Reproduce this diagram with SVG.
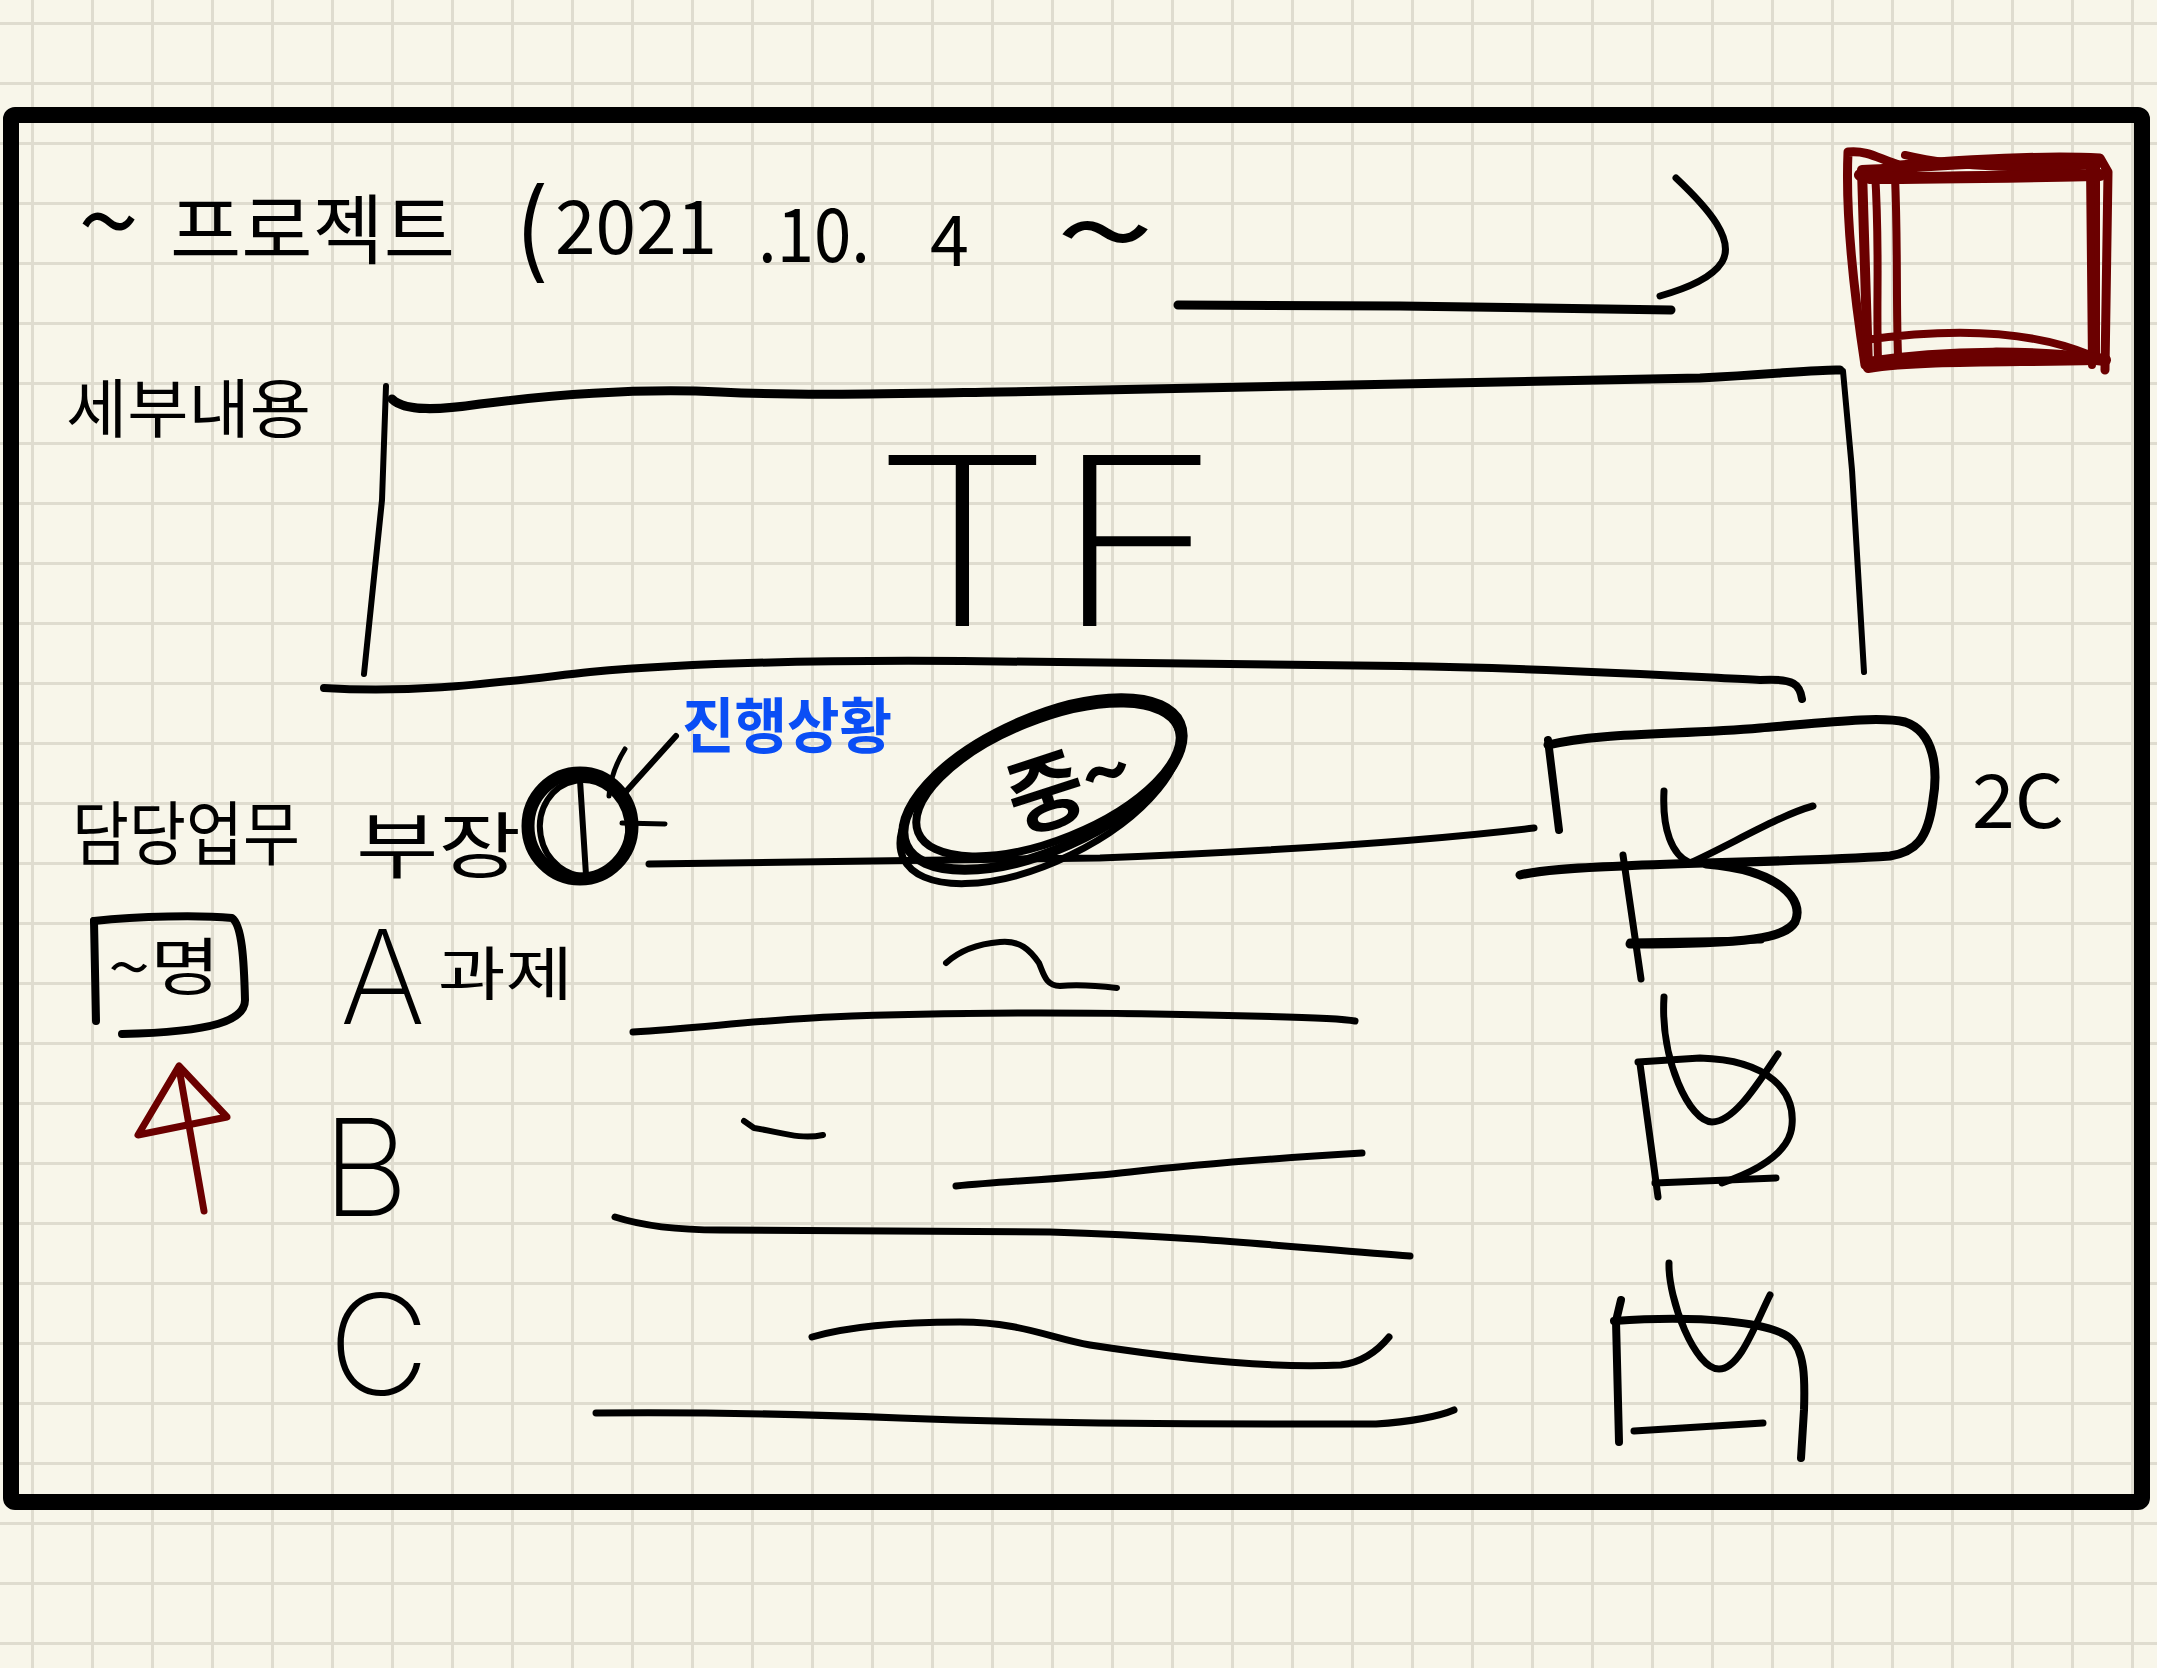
<svg xmlns="http://www.w3.org/2000/svg" width="2157" height="1668" viewBox="0 0 2157 1668">
<defs>
<pattern id="grid" x="31" y="22" width="60" height="60" patternUnits="userSpaceOnUse">
<path d="M0 1.5H60M1.5 0V60" stroke="#dfdccf" stroke-width="3" fill="none"/>
</pattern>
<style>
.ink{fill:none;stroke:#000;stroke-linecap:round;stroke-linejoin:round}
.red{fill:none;stroke:#6b0000;stroke-linecap:round;stroke-linejoin:round}
.hw{font-family:"Noto Sans CJK KR","Noto Sans",sans-serif;fill:#000}
.lat{font-family:Inter,"DejaVu Sans","Liberation Sans",sans-serif;font-weight:200;fill:#000}
.blue{font-family:"Noto Sans CJK KR",sans-serif;fill:#0a4ef5;font-weight:bold}
</style>
</defs>
<rect width="2157" height="1668" fill="#f8f6ea"/>
<rect width="2157" height="1668" fill="url(#grid)"/>

<g id="frame">
<rect x="11" y="115" width="2131" height="1387" rx="4" fill="none" stroke="#000" stroke-width="16"/>
</g>

<g id="title">
<text class="hw" x="78" y="262" font-size="110">~</text>
<text class="hw" x="170" y="258" font-size="76" textLength="285" lengthAdjust="spacingAndGlyphs">프로젝트</text>
<text class="lat" x="512" y="268" font-size="110" style="font-weight:300">(</text>
<text class="hw" x="555" y="254" font-size="74" textLength="162" lengthAdjust="spacingAndGlyphs">2021</text>
<text class="hw" x="758" y="262" font-size="74" textLength="112" lengthAdjust="spacingAndGlyphs">.10.</text>
<text class="hw" x="930" y="266" font-size="70">4</text>
<text class="hw" x="1055" y="280" font-size="130" textLength="100" lengthAdjust="spacingAndGlyphs">~</text>
<path class="ink" stroke-width="9" d="M1178 305 L1400 306 L1671 310"/>
<path class="ink" stroke-width="7" d="M1676 178 C1710 210 1735 240 1722 262 C1712 278 1688 288 1660 296"/>
</g>

<g id="detail-label">
<text class="hw" x="66" y="432" font-size="64" textLength="245" lengthAdjust="spacingAndGlyphs">세부내용</text>
</g>

<g id="tf-box">
<path class="ink" stroke-width="9" d="M392 399 C405 412 440 410 480 404 C560 394 640 388 720 392 C800 396 880 394 1000 392 C1200 388 1500 382 1700 378 C1780 374 1820 369 1840 370"/>
<path class="ink" stroke-width="6" d="M1843 371 L1852 470 L1864 672"/>
<path class="ink" stroke-width="6" d="M386 386 L382 500 L364 674"/>
<path class="ink" stroke-width="8" d="M324 688 C420 694 500 682 590 672 C700 662 830 660 963 661 C1100 662 1250 664 1400 666 C1550 668 1680 676 1760 680 C1795 678 1800 685 1802 699"/>
<text class="lat" x="872" y="626" font-size="235" textLength="350" lengthAdjust="spacingAndGlyphs">TF</text>
</g>

<g id="duty-label">
<text class="hw" x="72" y="860" font-size="70" textLength="228" lengthAdjust="spacingAndGlyphs">담당업무</text>
<text class="hw" x="356" y="872" font-size="72" textLength="165" lengthAdjust="spacingAndGlyphs">부장</text>
</g>

<g id="marker-circle">
<ellipse cx="580" cy="826" rx="52" ry="53" class="ink" stroke-width="13"/>
<ellipse cx="584" cy="828" rx="44" ry="48" class="ink" stroke-width="6" transform="rotate(-10 584 828)"/>
<path class="ink" stroke-width="6" d="M580 780 L586 875"/>
</g>

<g id="progress-note">
<text class="blue" x="682" y="748" font-size="60" textLength="210" lengthAdjust="spacingAndGlyphs">진행상황</text>
</g>

<g id="important-oval">
<ellipse cx="1043" cy="784" rx="150" ry="66" class="ink" stroke-width="10" transform="rotate(-24 1043 784)"/>
<ellipse cx="1048" cy="780" rx="140" ry="60" class="ink" stroke-width="8" transform="rotate(-22 1048 780)"/>
<ellipse cx="1040" cy="792" rx="152" ry="70" class="ink" stroke-width="7" transform="rotate(-26 1040 792)"/>
<text class="hw" x="1005" y="812" font-size="84" font-weight="bold" transform="rotate(-18 1080 780)">중~</text>
</g>

<g id="connectors">
<path class="ink" stroke-width="6" d="M622 796 L676 736"/>
<path class="ink" stroke-width="5" d="M625 749 C615 765 610 780 609 796"/>
<path class="ink" stroke-width="5" d="M622 823 L665 824"/>
<path class="ink" stroke-width="7" d="M649 864 L1100 858 C1300 850 1450 838 1534 828"/>
</g>

<g id="status-box">
<path class="ink" stroke-width="8" d="M1548 740 L1559 830"/>
<path class="ink" stroke-width="9" d="M1548 745 C1600 732 1680 735 1760 728 C1830 722 1880 716 1905 722 C1935 732 1938 770 1933 800 C1928 840 1915 852 1890 856 C1800 862 1700 862 1623 866 C1570 868 1540 870 1520 875"/>
<path class="ink" stroke-width="7" d="M1664 791 C1662 830 1672 855 1690 863 C1730 845 1780 815 1813 806"/>
<text class="hw" x="1972" y="828" font-size="74" textLength="92" lengthAdjust="spacingAndGlyphs">2C</text>
</g>

<g id="check-a">
<path class="ink" stroke-width="7" d="M1623 855 L1641 979"/>
<path class="ink" stroke-width="9" d="M1706 864 C1780 870 1805 900 1795 922 C1785 938 1750 944 1630 944"/>
<path class="ink" stroke-width="7" d="M1630 942 L1761 940"/>
</g>

<g id="check-b">
<path class="ink" stroke-width="7" d="M1664 997 C1660 1060 1690 1122 1712 1122 C1735 1122 1760 1080 1778 1054"/>
<path class="ink" stroke-width="7" d="M1640 1064 L1658 1197"/>
<path class="ink" stroke-width="7" d="M1638 1062 L1700 1058 C1770 1060 1795 1092 1792 1125 C1790 1152 1760 1170 1722 1183"/>
<path class="ink" stroke-width="7" d="M1655 1183 L1776 1178"/>
</g>

<g id="check-c">
<path class="ink" stroke-width="7" d="M1669 1263 C1668 1300 1695 1369 1719 1369 C1740 1369 1755 1325 1770 1295"/>
<path class="ink" stroke-width="8" d="M1621 1300 L1616 1321 L1619 1442"/>
<path class="ink" stroke-width="8" d="M1614 1321 C1700 1315 1770 1322 1790 1338 C1805 1350 1805 1380 1804 1410 L1801 1458"/>
<path class="ink" stroke-width="7" d="M1634 1431 L1763 1423"/>
</g>

<g id="red-square">
<path class="red" stroke-width="9" d="M1848 152 C1845 220 1855 300 1865 365 M1848 152 C1870 150 1880 160 1900 165 C1960 160 2040 155 2100 158 L2108 172 L2105 370"/>
<path class="red" stroke-width="10" d="M1862 170 C1920 168 1980 160 2095 160 L2095 360 C2000 362 1920 360 1868 368 Z"/>
<path class="red" stroke-width="8" d="M1875 172 C1880 250 1876 300 1878 360 M1895 175 C1898 250 1896 300 1898 355 M1905 155 C1960 168 2040 170 2090 165 L2092 365 M1865 340 C1950 328 2030 330 2090 355"/>
<path class="red" stroke-width="12" d="M1860 175 L1870 178 C1950 178 2040 176 2100 175 M1868 363 C1950 350 2040 352 2105 360"/>
</g>

<g id="count-box">
<path class="ink" stroke-width="8" d="M94 921 L96 1021"/>
<path class="ink" stroke-width="8" d="M94 921 C140 916 200 915 232 918 C242 925 244 960 245 1000 C245 1020 215 1032 122 1034"/>
<text class="hw" x="108" y="990" font-size="62" textLength="112" lengthAdjust="spacingAndGlyphs">~명</text>
</g>

<g id="red-arrow">
<path class="red" stroke-width="7" d="M179 1068 L204 1211"/>
<path class="red" stroke-width="7" d="M179 1066 L138 1135 L227 1117 Z"/>
</g>

<g id="row-a">
<text class="lat" x="340" y="1024" font-size="130">A</text>
<text class="hw" x="438" y="995" font-size="58" textLength="135" lengthAdjust="spacingAndGlyphs">과제</text>
<path class="ink" stroke-width="6" d="M946 963 C960 950 977 944 1000 942 C1020 940 1030 950 1039 963 C1044 975 1046 986 1060 986 C1080 984 1100 986 1117 988"/>
<path class="ink" stroke-width="7" d="M633 1032 C700 1028 760 1020 830 1017 C950 1012 1100 1012 1250 1016 C1300 1017 1340 1018 1355 1021"/>
</g>

<g id="row-b">
<text class="lat" x="322" y="1216" font-size="135">B</text>
<path class="ink" stroke-width="6" d="M744 1121 L754 1128 C780 1132 800 1140 823 1135"/>
<path class="ink" stroke-width="7" d="M956 1186 C1020 1180 1080 1178 1130 1172 C1200 1164 1280 1158 1362 1153"/>
<path class="ink" stroke-width="7" d="M615 1217 C640 1225 670 1230 720 1230 C850 1230 960 1232 1050 1232 C1200 1236 1320 1250 1410 1256"/>
</g>

<g id="row-c">
<text class="lat" x="328" y="1395" font-size="140">C</text>
<path class="ink" stroke-width="7" d="M812 1337 C850 1326 900 1322 960 1322 C1020 1322 1050 1338 1090 1345 C1200 1362 1280 1368 1341 1365 C1365 1362 1380 1348 1389 1337"/>
<path class="ink" stroke-width="7" d="M596 1413 C700 1412 800 1414 900 1418 C1050 1424 1200 1424 1376 1424 C1410 1422 1440 1416 1454 1410"/>
</g>
</svg>
